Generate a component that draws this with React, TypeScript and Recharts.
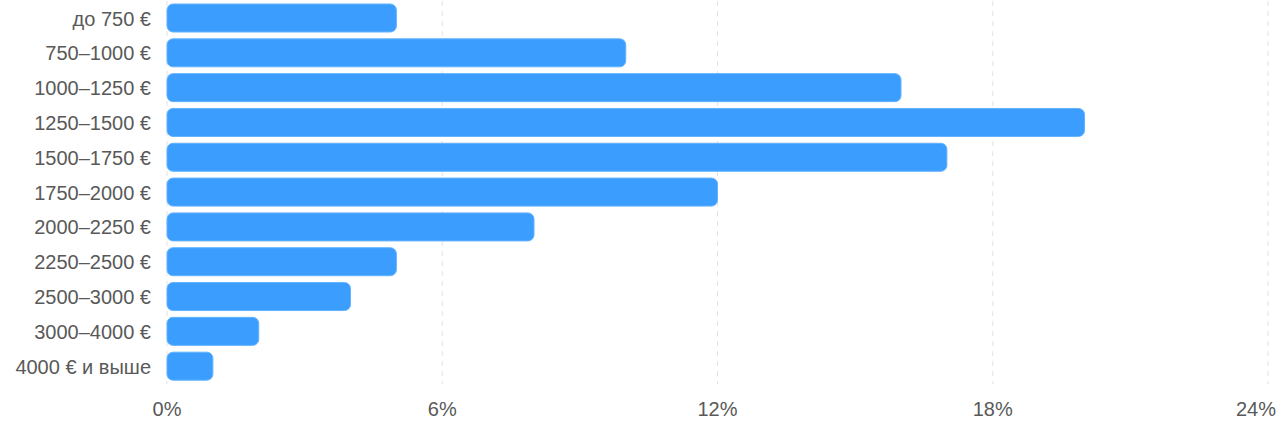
import { BarChart, Bar, XAxis, YAxis, CartesianGrid } from 'recharts';

const categories = [
  'до 750 €',
  '750–1000 €',
  '1000–1250 €',
  '1250–1500 €',
  '1500–1750 €',
  '1750–2000 €',
  '2000–2250 €',
  '2250–2500 €',
  '2500–3000 €',
  '3000–4000 €',
  '4000 € и выше',
];

const shares = [5, 10, 16, 20, 17, 12, 8, 5, 4, 2, 1];

const xTicks = [0, 6, 12, 18, 24];

const FONT = '"Liberation Sans", Arial, sans-serif';
const TEXT = '#595959';

// last x tick would be clipped at the right edge, so pull it inside
function PercentTick(props: any) {
  const { x, y, payload } = props;
  const last = payload.value === xTicks[xTicks.length - 1];
  return (
    <text
      x={last ? x + 8 : x}
      y={y}
      dy="0.71em"
      textAnchor={last ? 'end' : 'middle'}
      fontSize={20}
      fontFamily={FONT}
      fill={TEXT}
    >
      {`${payload.value}%`}
    </text>
  );
}

export default function App() {
  const data = categories.map((name, i) => ({ name, value: shares[i] }));

  return (
    <div style={{ position: 'absolute', left: 0, top: 0 }}>
      <BarChart
        width={1282}
        height={433}
        data={data}
        layout="vertical"
        margin={{ top: 1, right: 14, bottom: 0, left: 0 }}
        barSize={28}
      >
        <CartesianGrid vertical horizontal={false} stroke="#e3e3e3" strokeDasharray="5 5" />
        <XAxis
          type="number"
          domain={[0, 24]}
          ticks={xTicks}
          axisLine={false}
          tickLine={false}
          tickSize={6}
          tickMargin={12}
          height={49}
          tick={<PercentTick />}
          interval={0}
        />
        <YAxis
          type="category"
          dataKey="name"
          width={167}
          axisLine={false}
          tickLine={false}
          tickSize={0}
          tickMargin={16}
          tick={{ fontSize: 20, fill: TEXT, fontFamily: FONT }}
          interval={0}
        />
        <Bar
          dataKey="value"
          fill="#3b9eff"
          stroke="#62b2ff"
          strokeWidth={1}
          radius={6}
          isAnimationActive={false}
        />
      </BarChart>
    </div>
  );
}
